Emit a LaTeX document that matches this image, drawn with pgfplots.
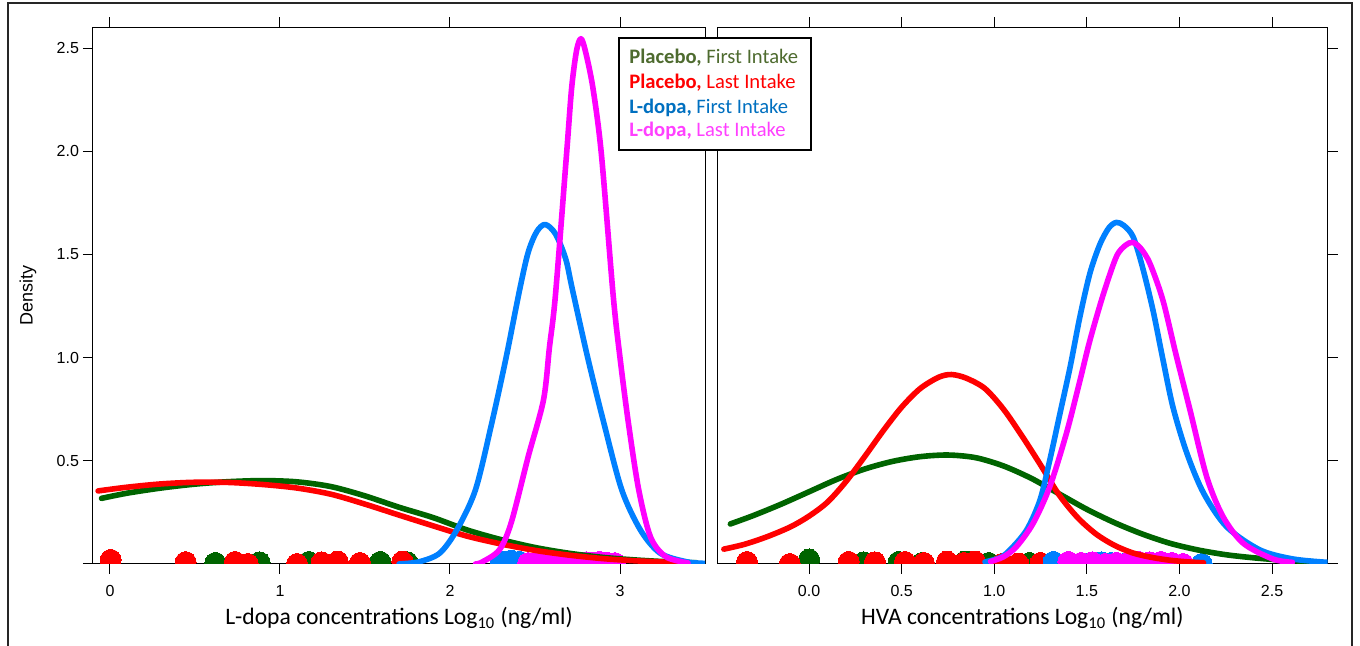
\documentclass[border=0pt]{standalone}
\usepackage{fontspec}
\setmainfont{Carlito}
\newfontfamily\helv{Liberation Sans}
\usepackage{pgfplots}
\pgfplotsset{compat=1.18}
\definecolor{cgreen}{HTML}{006400}
\definecolor{cred}{HTML}{FF0000}
\definecolor{cblue}{HTML}{0080FF}
\definecolor{cmag}{HTML}{FF00FF}
\definecolor{lgreen}{HTML}{4E6B2F}
\definecolor{lblue}{HTML}{0070C0}
\definecolor{lmag}{HTML}{FF40FF}
\pgfplotsset{
  panel/.style={
    scale only axis, anchor=south west,
    ymin=0, ymax=2.6, height=268.3pt,
    clip marker paths=true,
    tick align=outside, major tick length=5pt,
    axis line style={line width=0.5pt},
    tick style={line width=0.5pt, black},
    ticklabel style={font=\helv\fontsize{8}{9.5}\selectfont},
    xticklabel style={yshift=-2pt},
    ytick={0,0.5,1,1.5,2,2.5},
    xtick pos=both, xticklabel pos=lower,
    every axis x label/.style={at={(axis description cs:0.5,0)}, anchor=center, yshift=-27pt, font=\fontsize{11.8}{14}\selectfont},
  },
  curve/.style={line width=2.8pt, smooth, line cap=round, line join=round, no markers},
  rug/.style={only marks, mark=*, mark size=5.25pt, mark options={draw=#1, fill=#1, line width=0pt}},
}
\begin{document}
\begin{tikzpicture}
\useasboundingbox (0,0) rectangle (680pt,323pt);
\draw[line width=1pt, black!85] (4pt,-3pt) -- (4pt,321.5pt) -- (676pt,321.5pt) -- (676pt,-3pt);
% ---------------- left panel ----------------
\begin{axis}[panel, at={(46.5pt,41pt)}, width=306pt,
  xmin=-0.1, xmax=3.5,
  xtick={0,1,2,3}, xticklabels={0,1,2,3},
  ytick pos=left, yticklabel pos=left,
  yticklabels={,0.5,1.0,1.5,2.0,2.5},
  yticklabel style={xshift=1.5pt},
  ylabel={Density},
  xlabel={L-dopa concentrations Log\textsubscript{10} (ng/ml)},
  every axis y label/.style={at={(axis description cs:-0.1062,0.5)}, rotate=90, anchor=center, font=\helv\fontsize{9}{10}\selectfont},
]
\addplot[rug=cgreen] coordinates {(0.22,-0.016) (0.62,0.005) (0.88,0.008) (1.14,-0.004) (1.17,0.010) (1.59,0.010) (1.75,0.008)};
\addplot[rug=cred] coordinates {(0.004,0.020) (0.445,0.009) (0.735,0.010) (0.81,0.0) (1.02,-0.005) (1.10,0.0) (1.245,0.008) (1.34,0.012) (1.47,0.005) (1.62,-0.006) (1.72,0.012)};
\addplot[rug=cblue] coordinates {(2.20,-0.03) (2.30,0.012) (2.36,0.016) (2.41,0.01) (2.55,0.0) (2.70,0.0)};
\addplot[rug=cmag] coordinates {(2.46,0.004) (2.52,0.006) (2.58,0.005) (2.64,0.002) (2.70,0.006) (2.76,0.004) (2.80,0.008) (2.84,0.005) (2.88,0.010) (2.92,0.006) (2.97,0.004) (3.03,-0.005)};
% curves
\addplot[curve, cgreen] coordinates {(-0.05,0.318) (0.1,0.343) (0.3,0.368) (0.5,0.387) (0.7,0.399) (0.9,0.404) (1.1,0.398) (1.3,0.375) (1.5,0.330) (1.7,0.275) (1.9,0.225) (2.1,0.165) (2.3,0.118) (2.5,0.080) (2.7,0.052) (2.9,0.032) (3.1,0.019) (3.3,0.010) (3.45,0.006)};
\addplot[curve, cred] coordinates {(-0.07,0.354) (0.1,0.372) (0.3,0.388) (0.5,0.396) (0.7,0.395) (0.9,0.385) (1.1,0.368) (1.3,0.338) (1.5,0.290) (1.7,0.237) (1.9,0.185) (2.1,0.135) (2.3,0.097) (2.5,0.066) (2.7,0.043) (2.9,0.026) (3.1,0.015) (3.3,0.008) (3.45,0.004)};
\addplot[curve, cblue] coordinates {(1.7,0.0) (1.82,0.011) (1.94,0.053) (2.04,0.165) (2.15,0.36) (2.245,0.68) (2.33,1.0) (2.41,1.33) (2.46,1.51) (2.51,1.61) (2.56,1.645) (2.62,1.60) (2.68,1.48) (2.72,1.33) (2.81,1.0) (2.906,0.68) (3.01,0.36) (3.12,0.165) (3.235,0.053) (3.39,0.011) (3.5,0.003)};
\addplot[curve, cmag] coordinates {(2.15,0.0) (2.19,0.01) (2.29,0.068) (2.36,0.2) (2.46,0.52) (2.55,0.795) (2.585,1.05) (2.62,1.30) (2.686,1.99) (2.716,2.31) (2.745,2.49) (2.77,2.545) (2.795,2.49) (2.84,2.31) (2.89,1.99) (2.96,1.30) (3.0,1.0) (3.05,0.68) (3.11,0.36) (3.18,0.13) (3.27,0.035) (3.4,0.005)};
\end{axis}
% ---------------- right panel ----------------
\begin{axis}[panel, at={(358.5pt,41pt)}, width=305.3pt,
  xmin=-0.497, xmax=2.80,
  xtick={0,0.5,1,1.5,2,2.5}, xticklabels={0.0,0.5,1.0,1.5,2.0,2.5},
  ytick pos=right, yticklabels={},
  xlabel={HVA concentrations Log\textsubscript{10} (ng/ml)},
]
\addplot[rug=cgreen] coordinates {(0.0,0.022) (0.14,-0.016) (0.295,0.008) (0.484,0.010) (0.61,0.005) (0.842,0.012) (0.97,0.005) (1.19,0.005) (1.38,-0.018)};
\addplot[rug=cred] coordinates {(-0.335,0.010) (-0.104,0.0) (0.214,0.010) (0.356,0.008) (0.437,-0.005) (0.518,0.010) (0.62,0.005) (0.745,0.012) (0.835,0.005) (0.896,0.012) (1.04,0.0) (1.065,-0.005) (1.12,-0.010) (1.13,0.002) (1.25,0.005)};
\addplot[rug=cblue] coordinates {(1.32,0.010) (1.52,0.005) (1.58,0.008) (1.63,0.005) (1.70,0.0) (1.85,0.0) (2.12,0.0) (2.28,-0.02)};
\addplot[rug=cmag] coordinates {(1.40,0.010) (1.47,0.005) (1.53,0.008) (1.60,0.0) (1.66,0.005) (1.72,0.002) (1.78,0.010) (1.84,0.008) (1.90,0.010) (1.96,0.005) (2.02,0.0) (2.09,-0.015)};
% curves
\addplot[curve, cgreen] coordinates {(-0.425,0.194) (-0.3,0.235) (-0.15,0.29) (0.0,0.35) (0.15,0.41) (0.3,0.46) (0.45,0.497) (0.6,0.52) (0.75,0.528) (0.9,0.515) (1.05,0.475) (1.2,0.415) (1.35,0.34) (1.5,0.265) (1.65,0.20) (1.8,0.145) (1.95,0.10) (2.1,0.068) (2.25,0.045) (2.4,0.030) (2.55,0.019) (2.72,0.011)};
\addplot[curve, cred] coordinates {(-0.46,0.072) (-0.35,0.095) (-0.227,0.132) (-0.1,0.18) (0.0,0.232) (0.1,0.30) (0.2,0.40) (0.3,0.52) (0.4,0.645) (0.5,0.76) (0.6,0.85) (0.7,0.905) (0.77,0.918) (0.85,0.90) (0.95,0.85) (1.05,0.75) (1.15,0.62) (1.25,0.48) (1.35,0.335) (1.45,0.225) (1.55,0.145) (1.65,0.090) (1.75,0.053) (1.85,0.032) (1.95,0.018) (2.05,0.010) (2.13,0.006)};
\addplot[curve, cblue] coordinates {(0.95,0.01) (1.03,0.03) (1.085,0.068) (1.175,0.165) (1.247,0.31) (1.30,0.504) (1.355,0.73) (1.41,0.956) (1.463,1.2) (1.517,1.41) (1.571,1.55) (1.62,1.63) (1.66,1.655) (1.70,1.64) (1.75,1.585) (1.80,1.44) (1.857,1.23) (1.911,0.99) (1.965,0.76) (2.04,0.537) (2.13,0.344) (2.255,0.18) (2.435,0.068) (2.615,0.024) (2.80,0.008)};
\addplot[curve, cmag] coordinates {(0.98,0.012) (1.05,0.035) (1.12,0.084) (1.21,0.197) (1.30,0.375) (1.39,0.634) (1.463,0.89) (1.517,1.085) (1.59,1.31) (1.66,1.49) (1.71,1.545) (1.748,1.558) (1.79,1.53) (1.84,1.457) (1.91,1.28) (1.98,1.02) (2.057,0.746) (2.147,0.423) (2.235,0.23) (2.345,0.10) (2.505,0.024) (2.61,0.008)};
\end{axis}
% ---------------- legend ----------------
\draw[line width=0.75pt, fill=white] (309.5pt,248pt) rectangle (405.5pt,304pt);
\begin{scope}[every node/.style={anchor=base west, inner sep=0pt, font=\fontsize{10.3}{12}\selectfont}]
\node[text=lgreen] at (314.5pt,291pt) {\textbf{Placebo,} First Intake};
\node[text=cred] at (314.5pt,278.85pt) {\textbf{Placebo,} Last Intake};
\node[text=lblue] at (314.5pt,266.35pt) {\textbf{L-dopa,} First Intake};
\node[text=lmag] at (314.5pt,254.65pt) {\textbf{L-dopa,} Last Intake};
\end{scope}
\end{tikzpicture}
\end{document}
